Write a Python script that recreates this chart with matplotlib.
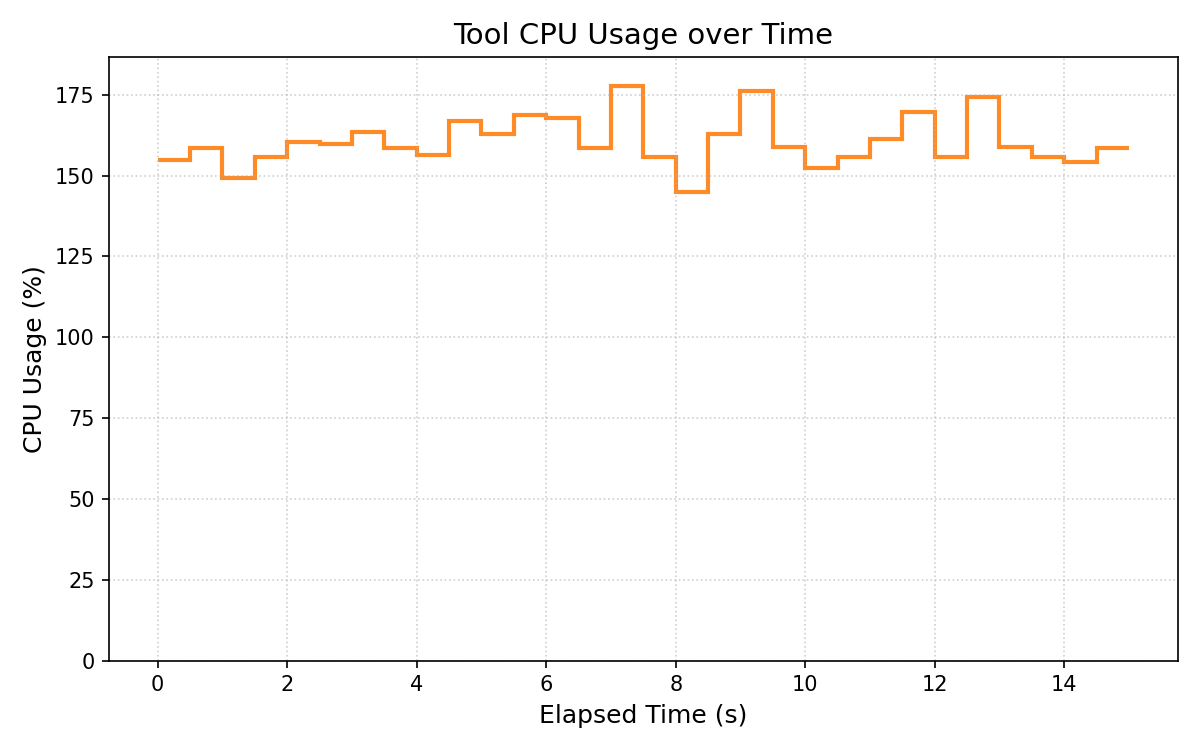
import numpy as np
import matplotlib
matplotlib.use('Agg')
from matplotlib import pyplot as plt

# sample edges (s) and CPU usage per 0.5 s interval (%)
edges = np.arange(0, 15.5, 0.5)
cpu = [154.7, 158.4, 149.4, 155.9, 160.4, 159.8, 163.5, 158.4, 156.3, 166.8,
       162.9, 168.8, 167.8, 158.4, 177.8, 155.9, 144.8, 162.9, 176.1, 158.7,
       152.5, 155.9, 161.2, 169.7, 155.9, 174.4, 158.7, 155.9, 154.3, 158.4]

fig, ax = plt.subplots(figsize=(8, 5), dpi=150)
ax.stairs(cpu, edges, baseline=None, color='tab:orange', alpha=0.9, linewidth=2)
ax.set_xlim(-0.75, 15.75)
ax.set_ylim(0, max(cpu) * 1.05)
ax.set_title('Tool CPU Usage over Time', fontsize=14)
ax.set_xlabel('Elapsed Time (s)', fontsize=12)
ax.set_ylabel('CPU Usage (%)', fontsize=12)
ax.grid(True, linestyle=':', alpha=0.6)
fig.tight_layout()
fig.savefig('out.png')
